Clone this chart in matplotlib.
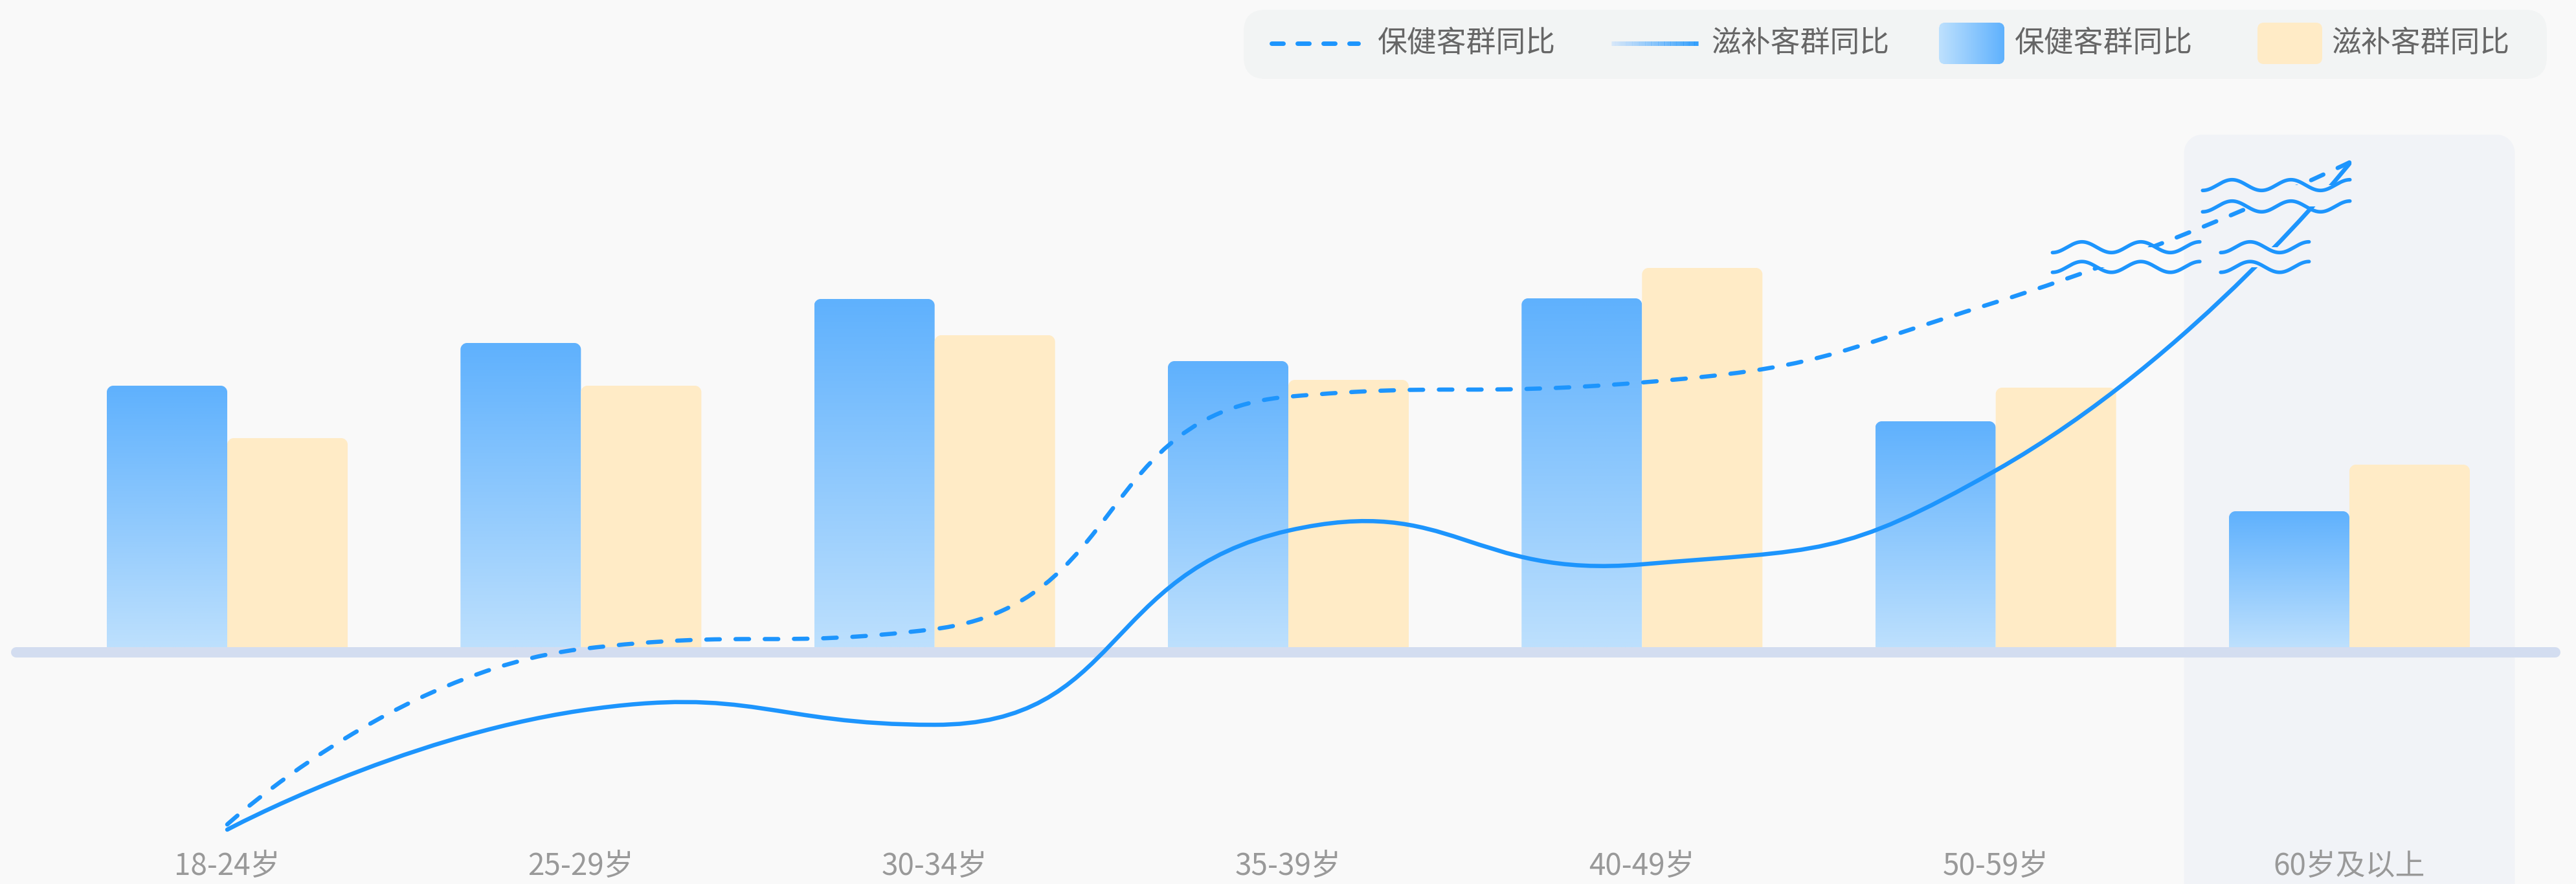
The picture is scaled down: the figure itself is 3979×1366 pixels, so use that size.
import numpy as np
import matplotlib
matplotlib.use('Agg')
import matplotlib.pyplot as plt
from matplotlib.path import Path
from matplotlib.patches import PathPatch, FancyBboxPatch, Rectangle
from matplotlib.colors import LinearSegmentedColormap
from matplotlib.collections import LineCollection

plt.rcParams['font.family'] = ['Noto Sans CJK SC', 'DejaVu Sans']
plt.rcParams['lines.scale_dashes'] = False

# ---------------- data ----------------
categories = ['18-24岁', '25-29岁', '30-34岁', '35-39岁', '40-49岁', '50-59岁', '60岁及以上']
health_bar = [404, 470, 538, 442, 539, 349, 210]       # 保健客群 (blue bars)
tonic_bar = [323, 404, 482, 413, 586, 401, 282]        # 滋补客群 (yellow bars)
health_yoy = [-274, -3, 28, 387, 409, 533, 749]        # 保健客群同比 (dashed line)
tonic_yoy = [-282, -98, -120, 180, 128, 273, 747]      # 滋补客群同比 (solid line)
axis_breaks = [(587.5, 618.0), (681.0, 714.0)]         # compressed ranges of the YoY axis
legend_labels = ['保健客群同比', '滋补客群同比', '保健客群同比', '滋补客群同比']

# ---------------- style ----------------
W, H, DPI = 3980, 1366, 100
BG = '#f9f9f9'
BLUE_DARK = '#5fb1fd'
BLUE_LIGHT = '#bde0fd'
YELLOW = '#ffebc6'
LINE = '#1d95fd'
BAND = '#d3ddf0'
PANEL = '#f1f3f7'
FS = 33
LW = 4.7
health_clamp = [True, True, True, True, True, True, True]      # smoothing constraint per point
tonic_clamp = [False, False, True, False, False, False, False]

fig = plt.figure(figsize=(W / DPI, H / DPI), dpi=DPI)
fig.patch.set_facecolor(BG)
ax = fig.add_axes([0, 0, 1, 1])
ax.patch.set_alpha(0)
n = len(categories)
XMIN, XMAX = -0.6425, n - 1 + 0.6425
YMIN, YMAX = -366, 1000
ax.set_xlim(XMIN, XMAX)
ax.set_ylim(YMIN, YMAX)
ax.axis('off')
px_x = W / (XMAX - XMIN)
px_y = H / (YMAX - YMIN)


def top_round_path(x0, x1, y0, y1, r_px):
    rx = r_px / px_x
    ry = min(r_px / px_y, (y1 - y0) / 2)
    k = 0.5523
    verts = [(x0, y0), (x0, y1 - ry),
             (x0, y1 - ry + k * ry), (x0 + rx - k * rx, y1), (x0 + rx, y1),
             (x1 - rx, y1),
             (x1 - rx + k * rx, y1), (x1, y1 - ry + k * ry), (x1, y1 - ry),
             (x1, y0), (x0, y0)]
    codes = [Path.MOVETO, Path.LINETO,
             Path.CURVE4, Path.CURVE4, Path.CURVE4,
             Path.LINETO,
             Path.CURVE4, Path.CURVE4, Path.CURVE4,
             Path.LINETO, Path.CLOSEPOLY]
    return Path(verts, codes)


# highlight panel of the last category
last = n - 1
ax.add_patch(PathPatch(top_round_path(last - 0.4675, last + 0.4675, YMIN - 10, 792, 28),
                       fc=PANEL, ec='none', zorder=0.5))

# bars
bw = 0.3405
cmap_blue = LinearSegmentedColormap.from_list('bb', [BLUE_LIGHT, BLUE_DARK])
grad = np.linspace(0, 1, 256).reshape(-1, 1)
for i, (hb, tb) in enumerate(zip(health_bar, tonic_bar)):
    p = PathPatch(top_round_path(i - bw, i, 0, hb, 10), fc='none', ec='none')
    ax.add_patch(p)
    im = ax.imshow(grad, extent=[i - bw, i, 0, hb], origin='lower', cmap=cmap_blue,
                   aspect='auto', zorder=2, interpolation='bilinear')
    im.set_clip_path(p)
    ax.add_patch(PathPatch(top_round_path(i, i + bw, 0, tb, 10), fc=YELLOW, ec='none', zorder=2))

ax.set_xlim(XMIN, XMAX)
ax.set_ylim(YMIN, YMAX)

# baseline band
ax.axhline(-8, xmin=25 / W, xmax=(W - 33) / W, color=BAND, lw=11.5,
           solid_capstyle='round', zorder=3)

# x labels
for i, c in enumerate(categories):
    ax.text(i, -339, c, ha='center', va='center', fontsize=FS, color='#999999', zorder=3)


# ---------------- smooth lines (echarts-like smoothing) ----------------
def smooth_verts(pts, clamp_flags, smooth=0.5):
    verts = [tuple(pts[0])]
    codes = [Path.MOVETO]
    cp0 = tuple(pts[0])
    m = len(pts)
    for i in range(1, m):
        x, y = pts[i]
        px, py = pts[i - 1]
        if i == m - 1:
            cp1 = (x, y)
            ncp0 = None
        else:
            nx, ny = pts[i + 1]
            vx, vy = nx - px, ny - py
            lp = np.hypot(x - px, y - py)
            ln = np.hypot(nx - x, ny - y)
            r = ln / (ln + lp)
            ncx = x + vx * smooth * r
            ncy = y + vy * smooth * r
            c1x = x - vx * smooth * (1 - r)
            c1y = y - vy * smooth * (1 - r)
            if clamp_flags[i]:
                ncx = max(min(ncx, max(nx, x)), min(nx, x))
                ncy = max(min(ncy, max(ny, y)), min(ny, y))
                vx, vy = ncx - x, ncy - y
                c1x = x - vx * lp / ln
                c1y = y - vy * lp / ln
                c1x = max(min(c1x, max(px, x)), min(px, x))
                c1y = max(min(c1y, max(py, y)), min(py, y))
                vx, vy = x - c1x, y - c1y
                ncx = x + vx * ln / lp
                ncy = y + vy * ln / lp
            cp1 = (c1x, c1y)
            ncp0 = (ncx, ncy)
        verts += [cp0, cp1, (x, y)]
        codes += [Path.CURVE4] * 3
        cp0 = ncp0
    return np.array(verts), codes


def eval_bezier(verts):
    t = np.linspace(0, 1, 400)[:, None]
    out = []
    for k in range(0, len(verts) - 1, 3):
        P0, P1, P2, P3 = verts[k:k + 4]
        out.append((1 - t) ** 3 * P0 + 3 * (1 - t) ** 2 * t * P1 + 3 * (1 - t) * t ** 2 * P2 + t ** 3 * P3)
    return np.vstack(out)


# clip region = everything except the break bands
edges = [YMIN - 50]
for lo, hi in axis_breaks:
    edges += [lo, hi]
edges.append(YMAX + 50)
cv, cc = [], []
for k in range(0, len(edges), 2):
    a, b = edges[k], edges[k + 1]
    cv += [(XMIN - 1, a), (XMAX + 1, a), (XMAX + 1, b), (XMIN - 1, b), (XMIN - 1, a)]
    cc += [Path.MOVETO, Path.LINETO, Path.LINETO, Path.LINETO, Path.CLOSEPOLY]
clip = Path(cv, cc)

xs = np.arange(n)
curves = {}
for key, vals, ls, flags in [('health', health_yoy, (0, (15, 17.5)), health_clamp),
                             ('tonic', tonic_yoy, 'solid', tonic_clamp)]:
    disp = ax.transData.transform(np.column_stack([xs, vals]))
    vd, codes = smooth_verts(disp, flags)
    curves[key] = eval_bezier(vd)
    vdata = ax.transData.inverted().transform(vd)
    patch = PathPatch(Path(vdata, codes), fill=False, ec=LINE, lw=LW, ls=ls,
                      capstyle='round', joinstyle='round', zorder=4)
    ax.add_patch(patch)
    patch.set_clip_path(clip, ax.transData)

# break markers (double wavy lines where a line crosses a break)
markers = [('health', 0, 2.5), ('health', 1, 2.5), ('tonic', 0, 1.5)]
period, amp = 91.0, 8.3
for key, bi, nper in markers:
    lo, hi = axis_breaks[bi]
    curve = curves[key]
    mid = ax.transData.transform((0, (lo + hi) / 2))[1]
    idx = np.where((curve[:-1, 1] - mid) * (curve[1:, 1] - mid) <= 0)[0][0]
    a, b = curve[idx], curve[idx + 1]
    cx = a[0] + (mid - a[1]) * (b[0] - a[0]) / (b[1] - a[1] + 1e-9)
    width = nper * period
    s = np.linspace(0, width, 300)
    for e in (lo, hi):
        ed = ax.transData.transform((0, e))[1]
        wx = cx - width / 2 + s
        wy = ed - amp * np.cos(2 * np.pi * s / period)
        wd = ax.transData.inverted().transform(np.column_stack([wx, wy]))
        ax.plot(wd[:, 0], wd[:, 1], color=LINE, lw=4.0, solid_capstyle='round', zorder=5)

# ---------------- legend (pixel overlay) ----------------
lax = fig.add_axes([0, 0, 1, 1], zorder=10)
lax.set_xlim(0, W)
lax.set_ylim(H, 0)
lax.axis('off')
lax.patch.set_alpha(0)

lax.add_patch(FancyBboxPatch((1921, 15), 2013, 107, boxstyle='round,pad=0,rounding_size=34',
                             fc='#f2f4f4', ec='none'))
LY = 67
lax.plot([1964, 2098], [LY, LY], color=LINE, lw=5, ls=(0, (13, 15.8)), dash_capstyle='round')
lax.text(2128, LY, legend_labels[0], ha='left', va='center', fontsize=FS, color='#666666')

gx = np.linspace(2489, 2623, 61)
segs = [[(gx[k], LY), (gx[k + 1], LY)] for k in range(len(gx) - 1)]
gcm = LinearSegmentedColormap.from_list('gl', ['#d4e6fa', LINE])
lc = LineCollection(segs, colors=gcm(np.linspace(0, 1, len(segs))), linewidths=5)
lax.add_collection(lc)
lax.text(2643, LY, legend_labels[1], ha='left', va='center', fontsize=FS, color='#666666')

rp = FancyBboxPatch((2995, 35), 101, 64, boxstyle='round,pad=0,rounding_size=10', fc='none', ec='none')
lax.add_patch(rp)
strips = np.linspace(2995, 3096, 102)
for k in range(len(strips) - 1):
    st = Rectangle((strips[k], 35), strips[k + 1] - strips[k] + 0.6, 64,
                   fc=cmap_blue(k / (len(strips) - 2)), ec='none', lw=0)
    lax.add_patch(st)
    st.set_clip_path(rp)
lax.text(3112, LY, legend_labels[2], ha='left', va='center', fontsize=FS, color='#666666')

lax.add_patch(FancyBboxPatch((3487, 35), 100, 64, boxstyle='round,pad=0,rounding_size=10',
                             fc=YELLOW, ec='none'))
lax.text(3601, LY, legend_labels[3], ha='left', va='center', fontsize=FS, color='#666666')
lax.set_xlim(0, W)
lax.set_ylim(H, 0)

fig.savefig('out.png', dpi=DPI, facecolor=BG)
